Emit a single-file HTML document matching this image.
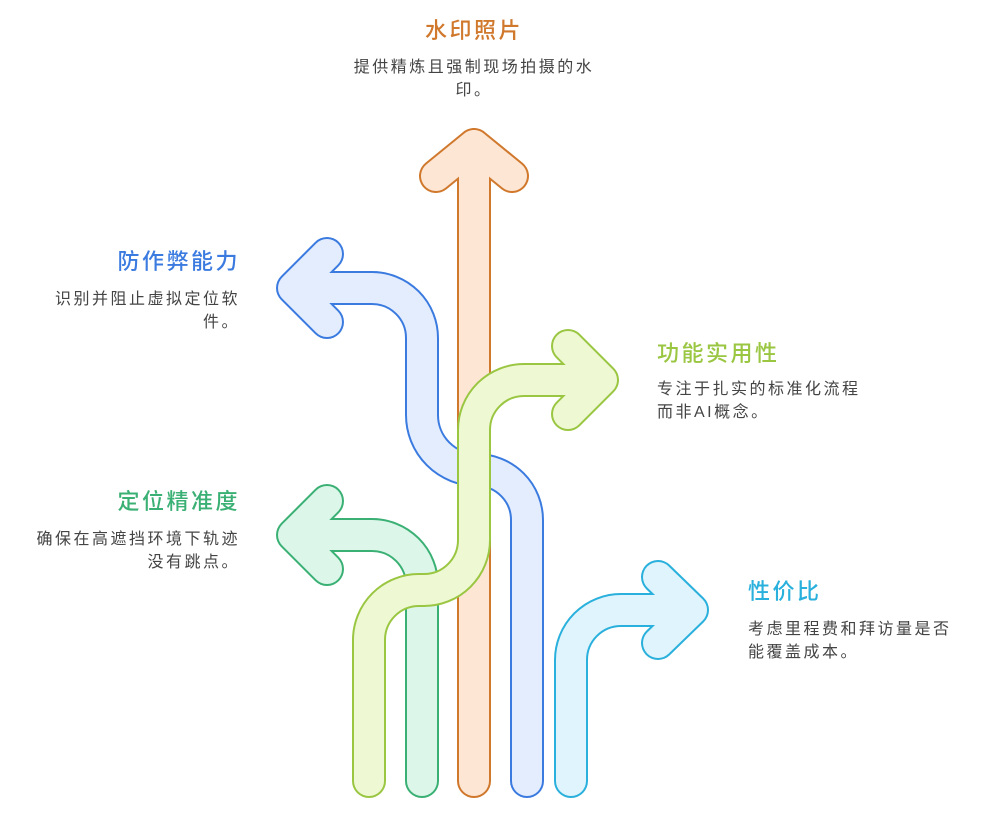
<!DOCTYPE html>
<html><head><meta charset="utf-8"><style>
body{margin:0;background:#fff;width:989px;height:836px;overflow:hidden;position:relative;font-family:"Liberation Sans","Noto Sans CJK SC",sans-serif}
.t{position:absolute;font-size:22px;font-weight:500;letter-spacing:2.5px;white-space:nowrap}
.d{position:absolute;font-size:16px;letter-spacing:2.5px;color:#444;line-height:23px;white-space:nowrap}
svg{position:absolute;left:0;top:0}
</style></head><body>
<svg width="989" height="836" fill="none" stroke-linejoin="round" stroke-linecap="round">
<!-- blue -->
<path d="M527 781 V520 A50 50 0 0 0 477 470 A55 55 0 0 1 422 415 V338 A50 50 0 0 0 372 288 H293 M327 254 L293 288 L327 322" stroke="#3b7be0" stroke-width="34"/>
<path d="M527 781 V520 A50 50 0 0 0 477 470 A55 55 0 0 1 422 415 V338 A50 50 0 0 0 372 288 H293 M327 254 L293 288 L327 322" stroke="#e3edfd" stroke-width="30"/>
<!-- orange -->
<path d="M474 781 V145 M436 176 L474 145 L512 176" stroke="#d0782c" stroke-width="34"/>
<path d="M474 781 V145 M436 176 L474 145 L512 176" stroke="#fde6d4" stroke-width="30"/>
<!-- green -->
<path d="M422 781 V585 A50 50 0 0 0 372 535 H293 M327 501 L293 535 L327 569" stroke="#3bb074" stroke-width="34"/>
<path d="M422 781 V585 A50 50 0 0 0 372 535 H293 M327 501 L293 535 L327 569" stroke="#dcf7ea" stroke-width="30"/>
<!-- cyan -->
<path d="M571 781 V660 A50 50 0 0 1 621 610 H692 M658 577 L692 610 L658 643" stroke="#2ab0dc" stroke-width="34"/>
<path d="M571 781 V660 A50 50 0 0 1 621 610 H692 M658 577 L692 610 L658 643" stroke="#dff4fc" stroke-width="30"/>
<!-- lime -->
<path d="M369 781 V640 A50 50 0 0 1 419 590 H424 A50 50 0 0 0 474 540 V430 A50 50 0 0 1 524 380 H602 M568 346 L602 380 L568 414" stroke="#9ac642" stroke-width="34"/>
<path d="M369 781 V640 A50 50 0 0 1 419 590 H424 A50 50 0 0 0 474 540 V430 A50 50 0 0 1 524 380 H602 M568 346 L602 380 L568 414" stroke="#eef9d4" stroke-width="30"/>
</svg>
<div class="t" style="left:324px;width:300px;text-align:center;top:13px;color:#d0782c">水印照片</div>
<div class="d" style="left:324px;width:300px;text-align:center;top:56px">提供精炼且强制现场拍摄的水<br>印。</div>
<div class="t" style="right:749px;top:244px;color:#3b7be0">防作弊能力</div>
<div class="d" style="right:749px;text-align:right;top:288px">识别并阻止虚拟定位软<br>件。</div>
<div class="t" style="left:657px;top:336px;color:#9ac642">功能实用性</div>
<div class="d" style="left:657px;top:378px">专注于扎实的标准化流程<br>而非AI概念。</div>
<div class="t" style="right:749px;top:484px;color:#3bb074">定位精准度</div>
<div class="d" style="right:749px;text-align:right;top:528px">确保在高遮挡环境下轨迹<br>没有跳点。</div>
<div class="t" style="left:748px;top:574px;color:#2ab0dc">性价比</div>
<div class="d" style="left:748px;top:618px">考虑里程费和拜访量是否<br>能覆盖成本。</div>
</body></html>
